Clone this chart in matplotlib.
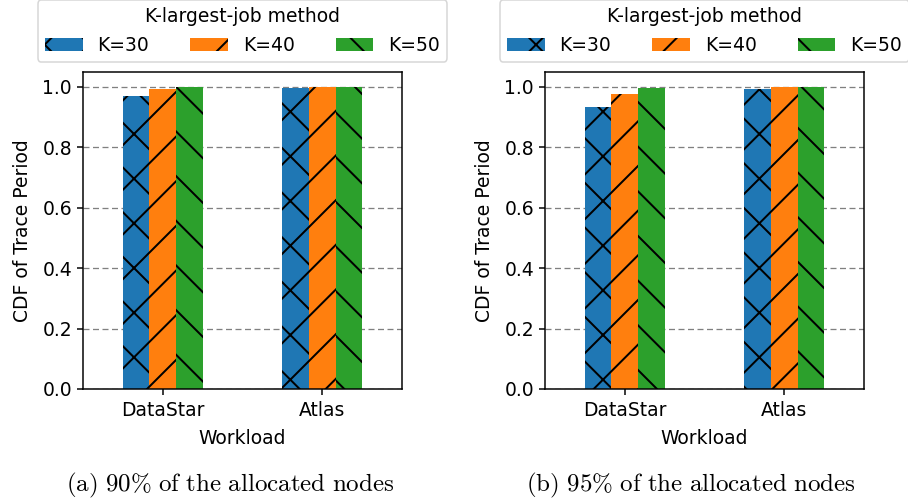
import numpy as np
import matplotlib
matplotlib.use('Agg')
import matplotlib.pyplot as plt

# the hatch cell follows the dpi, so the dpi sets the hatch spacing
DPI = 134


def pt(px):
    # pixel size -> points at the output dpi
    return px * 72.0 / DPI


workloads = ['DataStar', 'Atlas']
k_labels = ['K=30', 'K=40', 'K=50']
colors = ['#1f77b4', '#ff7f0e', '#2ca02c']
hatches = ['x', '/', '\\']

# CDF of trace period, per K, for DataStar / Atlas
k30_90 = [0.970, 0.997]
k40_90 = [0.992, 1.0]
k50_90 = [1.0, 1.0]

k30_95 = [0.933, 0.992]
k40_95 = [0.976, 1.0]
k50_95 = [0.996, 1.0]

captions = [r'$\mathrm{(a)\ 90\%\ of\ the\ allocated\ nodes}$',
            r'$\mathrm{(b)\ 95\%\ of\ the\ allocated\ nodes}$']

plt.rcParams['font.family'] = ['DejaVu Sans']
plt.rcParams['mathtext.fontset'] = 'cm'
plt.rcParams['font.size'] = pt(18.7)
plt.rcParams['axes.linewidth'] = pt(1.5)
plt.rcParams['xtick.major.size'] = pt(6)
plt.rcParams['ytick.major.size'] = pt(6)
plt.rcParams['xtick.major.width'] = pt(1.5)
plt.rcParams['ytick.major.width'] = pt(1.5)
plt.rcParams['xtick.major.pad'] = pt(6)
plt.rcParams['ytick.major.pad'] = pt(5)
plt.rcParams['hatch.linewidth'] = pt(2.0)
plt.rcParams['hatch.color'] = 'black'
plt.rcParams['lines.scale_dashes'] = False
plt.rcParams['patch.linewidth'] = pt(1.5)

fig = plt.figure(figsize=(908 / DPI, 500 / DPI), dpi=DPI)
ax1 = fig.add_axes([83 / 908, 111 / 500, 319 / 908, 317.5 / 500])
ax2 = fig.add_axes([545 / 908, 111 / 500, 319 / 908, 317.5 / 500])

panels = [
    (ax1, [k30_90, k40_90, k50_90], captions[0], 230 / 908),
    (ax2, [k30_95, k40_95, k50_95], captions[1], 691 / 908),
]

x = np.arange(len(workloads))
w = 1 / 6
for ax, series, caption, cx in panels:
    for i, vals in enumerate(series):
        ax.bar(x + (i - 1) * w, vals, w, color=colors[i], hatch=hatches[i],
               label=k_labels[i], linewidth=0)
    ax.set_xlim(-0.5, 1.5)
    ax.set_ylim(0, 1.05)
    ax.set_xticks(x, workloads)
    ax.set_yticks(np.arange(0, 1.01, 0.2))
    ax.yaxis.set_major_formatter('{x:.1f}')
    ax.yaxis.grid(True, linestyle=(0, (pt(6), pt(3.5))), color='gray',
                  linewidth=pt(1.3))
    ax.set_axisbelow(True)
    ax.set_xlabel('Workload', labelpad=pt(8.5))
    ax.set_ylabel('CDF of Trace Period', labelpad=pt(10))
    ax.legend(title='K-largest-job method', ncol=3, loc='lower center',
              bbox_to_anchor=(0.5, 1.0), columnspacing=2.2)
    fig.text(cx, 9 / 500, caption, ha='center', va='baseline',
             fontsize=pt(25))

fig.savefig('out.png', dpi=DPI)
